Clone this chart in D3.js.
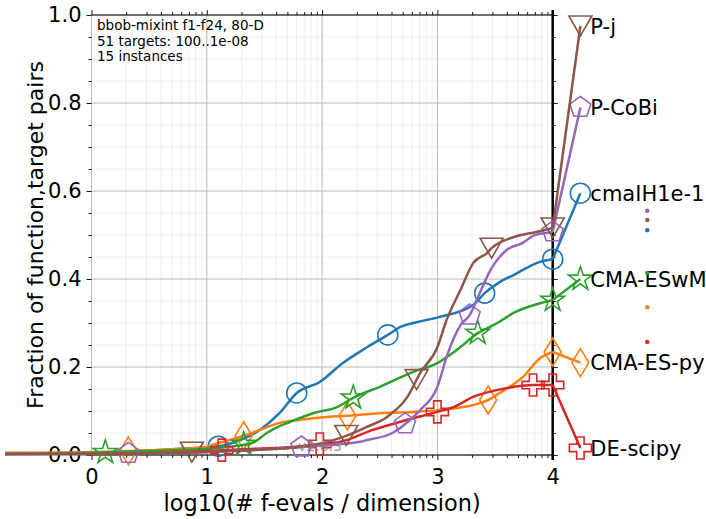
<!DOCTYPE html>
<html>
<head>
<meta charset="utf-8">
<script src="https://cdn.jsdelivr.net/npm/d3@7"></script>
<style>
  body { margin: 0; background: #ffffff; }
  text { font-family: "DejaVu Sans", sans-serif; }
</style>
</head>
<body>
<svg id="chart" width="706" height="519"></svg>
<script>
// ECDF of runtimes (log10 of f-evals / dimension) for each algorithm
const algorithms = ["cmaIH1e-1", "CMA-ES-py", "CMA-ESwM", "DE-scipy", "P-CoBi", "P-j"];
const colors = ["#1f77b4", "#ff7f0e", "#2ca02c", "#d62728", "#9467bd", "#8c564b"];
const markerKinds = ["circle", "thinDiamond", "star", "plus", "pentagon", "triangleDown"];

const cmaIH_x = [-0.75, 0, 0.77, 1.10, 1.29, 1.46, 1.63, 1.78, 1.98, 2.18, 2.39, 2.57, 2.68, 2.79, 3.02, 3.31, 3.41, 3.54, 3.66, 3.89, 4.0];
const cmaIH_y = [0.002, 0.005, 0.014, 0.020, 0.034, 0.057, 0.095, 0.141, 0.166, 0.209, 0.245, 0.273, 0.291, 0.300, 0.314, 0.341, 0.368, 0.393, 0.409, 0.439, 0.445];

const cmaPy_x = [-0.75, 0, 0.51, 1.0, 1.05, 1.29, 1.46, 1.63, 1.81, 2.01, 2.22, 2.5, 2.79, 3.0, 3.37, 3.44, 3.54, 3.74, 3.89, 4.0];
const cmaPy_y = [0.005, 0.007, 0.011, 0.018, 0.023, 0.041, 0.057, 0.073, 0.080, 0.086, 0.089, 0.095, 0.098, 0.102, 0.118, 0.125, 0.141, 0.177, 0.220, 0.234];

const cmaWM_x = [-0.75, 0, 0.51, 1.0, 1.18, 1.40, 1.52, 1.635, 1.72, 1.92, 2.13, 2.27, 2.5, 2.79, 3.0, 3.17, 3.35, 3.52, 3.66, 3.89, 4.0];
const cmaWM_y = [0.002, 0.005, 0.009, 0.014, 0.018, 0.028, 0.050, 0.066, 0.075, 0.095, 0.109, 0.130, 0.155, 0.189, 0.209, 0.239, 0.277, 0.300, 0.323, 0.345, 0.352];

const deScipy_x = [-0.75, 0, 1.0, 1.13, 1.81, 1.98, 2.16, 2.44, 2.74, 3.0, 3.14, 3.31, 3.60, 3.83, 4.0];
const deScipy_y = [0.002, 0.002, 0.009, 0.011, 0.020, 0.025, 0.030, 0.057, 0.080, 0.098, 0.109, 0.132, 0.152, 0.159, 0.159];

const pCoBi_x = [-0.75, 0, 1.0, 1.81, 2.33, 2.39, 2.61, 2.70, 2.85, 3.0, 3.08, 3.2, 3.28, 3.37, 3.46, 3.60, 3.74, 3.83, 3.95, 4.0];
const pCoBi_y = [0.002, 0.002, 0.007, 0.018, 0.030, 0.034, 0.050, 0.066, 0.102, 0.155, 0.223, 0.295, 0.318, 0.370, 0.420, 0.466, 0.482, 0.498, 0.505, 0.507];

const pJ_x = [-0.75, 0, 1.0, 1.375, 1.81, 2.0, 2.16, 2.39, 2.56, 2.74, 2.85, 3.0, 3.08, 3.2, 3.31, 3.43, 3.47, 3.66, 3.86, 4.0];
const pJ_y = [0.002, 0.002, 0.007, 0.011, 0.018, 0.027, 0.039, 0.064, 0.086, 0.132, 0.186, 0.245, 0.307, 0.375, 0.436, 0.459, 0.470, 0.495, 0.507, 0.516];

// marker abscissae along each curve
const cmaIH_marks = [1.10, 1.78, 2.57, 3.41, 4.0];
const cmaPy_marks = [0.32, 1.32, 2.22, 3.44, 4.0];
const cmaWM_marks = [0.12, 1.32, 2.27, 3.35, 4.0];
const deScipy_marks = [1.13, 1.98, 3.0, 3.83, 4.0];
const pCoBi_marks = [0.32, 1.82, 2.72, 3.28, 4.0];
const pJ_marks = [0.87, 2.21, 2.82, 3.47, 4.0];

// final fraction reached, shown at the right of the budget line
const finalValues = [0.595, 0.21, 0.40, 0.016, 0.79, 0.975];
const finalX = 4.24;

// small colour dots to the right of the labels
const dotColors = ["#9467bd", "#8c564b", "#1f77b4", "#2ca02c", "#ff7f0e", "#d62728"];
const dotValues = [0.555, 0.534, 0.511, 0.414, 0.336, 0.257];
const dotX = 4.82;

const xMajor = [0, 1, 2, 3, 4];
const yMajor = [0, 0.2, 0.4, 0.6, 0.8, 1.0];
const infoLines = ["bbob-mixint f1-f24, 80-D", "51 targets: 100..1e-08", "15 instances"];

const seriesX = [cmaIH_x, cmaPy_x, cmaWM_x, deScipy_x, pCoBi_x, pJ_x];
const seriesY = [cmaIH_y, cmaPy_y, cmaWM_y, deScipy_y, pCoBi_y, pJ_y];
const seriesMarks = [cmaIH_marks, cmaPy_marks, cmaWM_marks, deScipy_marks, pCoBi_marks, pJ_marks];

const svg = d3.select("#chart");
const x = d3.scaleLinear().domain([0, 4]).range([91.5, 552.7]);
const y = d3.scaleLinear().domain([0, 1]).range([455, 15]);

// minor tick positions
const xMinor = [];
for (let d = 0; d < 4; d++) for (let k = 2; k <= 9; k++) xMinor.push(d + Math.log10(k));
const yMinor = d3.range(0, 1.0001, 0.05).map(v => +v.toFixed(2)).filter(v => Math.abs(v * 5 - Math.round(v * 5)) > 1e-6);

// grid
const grid = svg.append("g");
grid.selectAll(".gxm").data(xMinor).join("line")
  .attr("x1", d => x(d)).attr("x2", d => x(d)).attr("y1", y(0)).attr("y2", y(1))
  .attr("stroke", "#ebebeb").attr("stroke-width", 0.8);
grid.selectAll(".gym").data(yMinor).join("line")
  .attr("x1", x(0)).attr("x2", x(4)).attr("y1", d => y(d)).attr("y2", d => y(d))
  .attr("stroke", "#ebebeb").attr("stroke-width", 0.8);
grid.selectAll(".gxM").data(xMajor).join("line")
  .attr("x1", d => x(d)).attr("x2", d => x(d)).attr("y1", y(0)).attr("y2", y(1))
  .attr("stroke", "#b8b8b8").attr("stroke-width", 1);
grid.selectAll(".gyM").data(yMajor).join("line")
  .attr("x1", x(0)).attr("x2", x(4)).attr("y1", d => y(d)).attr("y2", d => y(d))
  .attr("stroke", "#b8b8b8").attr("stroke-width", 1);

// axes (ticks and labels)
function styleAxis(g, fs) {
  g.select(".domain").remove();
  g.selectAll("line").attr("stroke", "#000").attr("stroke-width", 0.9);
  g.selectAll("text").attr("font-size", fs).attr("fill", "#000")
    .style("font-family", '"DejaVu Sans", sans-serif');
}
svg.append("g").attr("transform", `translate(0,${y(0)})`)
  .call(d3.axisBottom(x).tickValues(xMajor).tickFormat(d3.format("d")).tickSize(5).tickPadding(9))
  .call(g => styleAxis(g, 21));
svg.append("g").attr("transform", `translate(0,${y(0)})`)
  .call(d3.axisBottom(x).tickValues(xMinor).tickFormat("").tickSize(3))
  .call(g => styleAxis(g, 0));
svg.append("g").attr("transform", `translate(0,${y(1)})`)
  .call(d3.axisTop(x).tickValues(xMajor).tickFormat("").tickSize(5))
  .call(g => styleAxis(g, 0));
svg.append("g").attr("transform", `translate(0,${y(1)})`)
  .call(d3.axisTop(x).tickValues(xMinor).tickFormat("").tickSize(3))
  .call(g => styleAxis(g, 0));
svg.append("g").attr("transform", `translate(${x(0)},0)`)
  .call(d3.axisLeft(y).tickValues(yMajor).tickFormat(d3.format(".1f")).tickSize(5).tickPadding(5))
  .call(g => styleAxis(g, 21));
svg.append("g").attr("transform", `translate(${x(0)},0)`)
  .call(d3.axisLeft(y).tickValues(yMinor).tickFormat("").tickSize(3))
  .call(g => styleAxis(g, 0));
svg.append("g").attr("transform", `translate(${x(4)},0)`)
  .call(d3.axisRight(y).tickValues(yMajor).tickFormat("").tickSize(5))
  .call(g => styleAxis(g, 0));
svg.append("g").attr("transform", `translate(${x(4)},0)`)
  .call(d3.axisRight(y).tickValues(yMinor).tickFormat("").tickSize(3))
  .call(g => styleAxis(g, 0));

// spines
svg.append("line").attr("x1", x(0)).attr("x2", x(4)).attr("y1", y(1)).attr("y2", y(1))
  .attr("stroke", "#000").attr("stroke-width", 1);
svg.append("line").attr("x1", x(0)).attr("x2", x(4)).attr("y1", y(0)).attr("y2", y(0))
  .attr("stroke", "#000").attr("stroke-width", 1);
// budget line at the maximum evaluations
svg.append("line").attr("x1", x(4)).attr("x2", x(4)).attr("y1", y(1) - 5).attr("y2", y(0) + 5)
  .attr("stroke", "#000").attr("stroke-width", 2.5);

// axis titles
svg.append("text").attr("x", (x(0) + x(4)) / 2).attr("y", 511)
  .attr("text-anchor", "middle").attr("font-size", 22.4).text("log10(# f-evals / dimension)");
svg.append("text").attr("transform", `translate(43,${(y(0) + y(1)) / 2}) rotate(-90)`)
  .attr("text-anchor", "middle").attr("font-size", 22).text("Fraction of function,target pairs");

// info text
svg.append("g").selectAll("text").data(infoLines).join("text")
  .attr("x", 97).attr("y", (d, i) => 30 + i * 15.5)
  .attr("font-size", 13.5).text(d => d);

// marker shapes
function markerPath(kind) {
  const p = d3.path();
  if (kind === "circle") {
    p.moveTo(10, 0); p.arc(0, 0, 10, 0, 2 * Math.PI);
  } else if (kind === "triangleDown") {
    p.moveTo(0, 10); p.lineTo(-11.5, -10); p.lineTo(11.5, -10); p.closePath();
  } else if (kind === "thinDiamond") {
    p.moveTo(0, -14); p.lineTo(8.5, 0); p.lineTo(0, 14); p.lineTo(-8.5, 0); p.closePath();
  } else if (kind === "star") {
    const R = 12.5, r = R * 0.381966;
    for (let i = 0; i < 10; i++) {
      const a = -Math.PI / 2 + i * Math.PI / 5, rr = i % 2 ? r : R;
      const px = rr * Math.cos(a), py = rr * Math.sin(a);
      i ? p.lineTo(px, py) : p.moveTo(px, py);
    }
    p.closePath();
  } else if (kind === "pentagon") {
    const R = 11;
    for (let i = 0; i < 5; i++) {
      const a = -Math.PI / 2 + i * 2 * Math.PI / 5;
      const px = R * Math.cos(a), py = R * Math.sin(a);
      i ? p.lineTo(px, py) : p.moveTo(px, py);
    }
    p.closePath();
  } else if (kind === "plus") {
    const s = 11, w = 3.7;
    const pts = [[-w, -s], [w, -s], [w, -w], [s, -w], [s, w], [w, w], [w, s], [-w, s], [-w, w], [-s, w], [-s, -w], [-w, -w]];
    pts.forEach((q, i) => i ? p.lineTo(q[0], q[1]) : p.moveTo(q[0], q[1]));
    p.closePath();
  }
  return p.toString();
}

function interp(xs, ys, t) {
  for (let i = 1; i < xs.length; i++) {
    if (t <= xs[i]) {
      const f = (t - xs[i - 1]) / (xs[i] - xs[i - 1]);
      return ys[i - 1] + f * (ys[i] - ys[i - 1]);
    }
  }
  return ys[ys.length - 1];
}

const smoothLine = d3.line().x(d => x(d[0])).y(d => y(d[1])).curve(d3.curveMonotoneX);
const straightLine = d3.line().x(d => x(d[0])).y(d => y(d[1]));

algorithms.forEach((name, i) => {
  const g = svg.append("g");
  const pts = seriesX[i].map((v, j) => [v, seriesY[i][j]]);
  const last = pts[pts.length - 1];
  g.append("path").datum(pts).attr("d", smoothLine)
    .attr("fill", "none").attr("stroke", colors[i]).attr("stroke-width", 2.5)
    .attr("stroke-linejoin", "round");
  g.append("path").datum([last, [finalX, finalValues[i]]]).attr("d", straightLine)
    .attr("fill", "none").attr("stroke", colors[i]).attr("stroke-width", 2.5);
  const marks = seriesMarks[i].map(t => [t, interp(seriesX[i], seriesY[i], t)]);
  marks.push([finalX, finalValues[i]]);
  g.selectAll("path.mk").data(marks).join("path").attr("class", "mk")
    .attr("transform", d => `translate(${x(d[0])},${y(d[1])})`)
    .attr("d", markerPath(markerKinds[i]))
    .attr("fill", "none").attr("stroke", colors[i]).attr("stroke-width", 1.6);
  g.append("text").attr("x", x(finalX) + 10).attr("y", y(finalValues[i]))
    .attr("dy", "0.36em").attr("font-size", 21).attr("fill", "#000").text(name);
});

svg.append("g").selectAll("circle").data(dotValues).join("circle")
  .attr("cx", x(dotX)).attr("cy", d => y(d)).attr("r", 2.2)
  .attr("fill", (d, i) => dotColors[i]);

// version stamp
svg.append("text").attr("x", 298).attr("y", 451).attr("font-size", 14)
  .attr("fill", "#808080").attr("fill-opacity", 0.8).text("v2.6.3");
</script>
</body>
</html>
